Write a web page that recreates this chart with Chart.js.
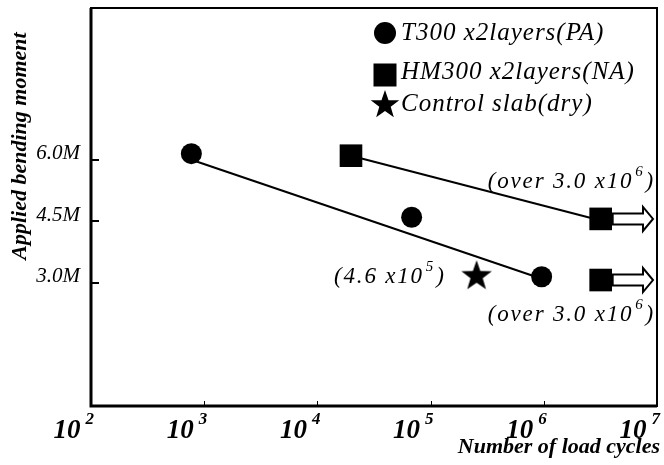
<!DOCTYPE html>
<html>
<head>
<meta charset="utf-8">
<script src="https://cdn.jsdelivr.net/npm/chart.js@4.4.0/dist/chart.umd.min.js"></script>
<style>
  html, body { margin: 0; padding: 0; background: #fff; }
  #wrap { width: 664px; height: 465px; }
</style>
</head>
<body>
<div id="wrap"><canvas id="fatigueChart" width="664" height="465"></canvas></div>
<script>
const xDecades = [100, 1000, 10000, 100000, 1000000, 10000000];
const xExponents = ['2', '3', '4', '5', '6', '7'];
const yTicks = [3.0, 4.5, 6.0];

const t300Cycles = [770, 68000, 957000];
const t300Moment = [6.15, 4.6, 3.15];
const t300FitCycles = [770, 957000];
const t300FitMoment = [6.0, 3.1];

const hm300Cycles = [19800, 3180000, 3180000];
const hm300Moment = [6.1, 4.56, 3.07];
const hm300FitCycles = [19800, 3180000];
const hm300FitMoment = [6.1, 4.52];

const controlCycles = [255000];
const controlMoment = [3.2];

const legendLabels = ['T300 x2layers(PA)', 'HM300 x2layers(NA)', 'Control slab(dry)'];
const runoutNote = ['(over 3.0 x10', '6', ')'];
const controlNote = ['(4.6 x10', '5', ')'];

const SERIF = "'Liberation Serif', 'Times New Roman', serif";

function toPoints(xs, ys) {
    return xs.map((x, i) => ({ x: x, y: ys[i] }));
}

function starPath(ctx, cx, cy, outer, inner) {
    ctx.beginPath();
    for (let i = 0; i < 10; i++) {
        const r = i % 2 === 0 ? outer : inner;
        const a = -Math.PI / 2 + i * Math.PI / 5;
        const px = cx + r * Math.cos(a);
        const py = cy + r * Math.sin(a);
        if (i === 0) ctx.moveTo(px, py); else ctx.lineTo(px, py);
    }
    ctx.closePath();
}

function makeStar(size) {
    const c = document.createElement('canvas');
    c.width = size;
    c.height = size;
    const g = c.getContext('2d');
    g.fillStyle = '#000';
    starPath(g, size / 2, size / 2 + 1.5, size / 2, size / 5);
    g.fill();
    return c;
}

// text with one superscript part: [base, sup, tail]
function drawSupText(ctx, parts, x, y, align, size, weight, spacing, gap) {
    const supSize = Math.round(size * 0.64);
    const baseFont = `italic ${weight} ${size}px ${SERIF}`;
    const supFont = `italic ${weight} ${supSize}px ${SERIF}`;
    ctx.letterSpacing = spacing + 'px';
    ctx.font = baseFont;
    const w0 = ctx.measureText(parts[0]).width;
    const w2 = ctx.measureText(parts[2]).width;
    ctx.font = supFont;
    const w1 = ctx.measureText(parts[1]).width + gap + 1;
    const total = w0 + w1 + w2;
    let left = align === 'right' ? x - total : (align === 'center' ? x - total / 2 : x);
    ctx.textAlign = 'left';
    ctx.textBaseline = 'middle';
    ctx.font = baseFont;
    ctx.fillText(parts[0], left, y);
    ctx.font = supFont;
    ctx.fillText(parts[1], left + w0 + gap, y - size * 0.42);
    ctx.font = baseFont;
    ctx.fillText(parts[2], left + w0 + w1, y);
    ctx.letterSpacing = '0px';
}

function drawArrow(ctx, x0, x1, y) {
    const shaft = 5.5, head = 12, headLen = 10;
    const xh = x1 - headLen;
    ctx.beginPath();
    ctx.moveTo(x0, y - shaft);
    ctx.lineTo(xh, y - shaft);
    ctx.lineTo(xh, y - head);
    ctx.lineTo(x1, y);
    ctx.lineTo(xh, y + head);
    ctx.lineTo(xh, y + shaft);
    ctx.lineTo(x0, y + shaft);
    ctx.closePath();
    ctx.fillStyle = '#fff';
    ctx.fill();
    ctx.lineWidth = 2;
    ctx.strokeStyle = '#000';
    ctx.stroke();
}

const starImg = makeStar(32);

const paperPlugin = {
    id: 'paper',
    afterDatasetsDraw(chart) {
        const ctx = chart.ctx;
        const xs = chart.scales.x, ys = chart.scales.y;
        ctx.save();
        // run-out arrows after the HM300 specimens that did not fail
        [1, 2].forEach(i => {
            const px = xs.getPixelForValue(hm300Cycles[i]);
            const py = ys.getPixelForValue(hm300Moment[i]);
            drawArrow(ctx, px + 12, chart.chartArea.right - 4, py);
        });
        ctx.restore();
    },
    afterDraw(chart) {
        const ctx = chart.ctx;
        const area = chart.chartArea;
        const xs = chart.scales.x, ys = chart.scales.y;
        ctx.save();
        ctx.fillStyle = '#000';
        ctx.strokeStyle = '#000';

        // frame
        ctx.lineWidth = 2;
        ctx.strokeRect(area.left, area.top, area.right - area.left, area.bottom - area.top);
        ctx.lineWidth = 3;
        ctx.beginPath();
        ctx.moveTo(area.left, area.top);
        ctx.lineTo(area.left, area.bottom);
        ctx.lineTo(area.right, area.bottom);
        ctx.stroke();

        // inward tick marks
        ctx.lineWidth = 2;
        yTicks.forEach(v => {
            const py = Math.round(ys.getPixelForValue(v));
            ctx.beginPath();
            ctx.moveTo(area.left, py);
            ctx.lineTo(area.left + 8, py);
            ctx.stroke();
        });
        ctx.lineWidth = 1;
        xDecades.slice(1, -1).forEach(v => {
            const px = Math.round(xs.getPixelForValue(v)) + 0.5;
            ctx.beginPath();
            ctx.moveTo(px, area.bottom);
            ctx.lineTo(px, area.bottom - 5);
            ctx.stroke();
        });

        // x tick labels 10^n
        xDecades.forEach((v, i) => {
            const px = xs.getPixelForValue(v);
            drawSupText(ctx, ['10', xExponents[i], ''], px + 4, area.bottom + 25, 'right', 27, 'bold', 0, 5);
        });

        // axis titles
        ctx.font = `italic bold 22px ${SERIF}`;
        ctx.textAlign = 'right';
        ctx.textBaseline = 'middle';
        ctx.fillText('Number of load cycles', area.right + 3, area.bottom + 41);

        ctx.save();
        ctx.translate(20, 146);
        ctx.rotate(-Math.PI / 2);
        ctx.textAlign = 'center';
        ctx.fillText('Applied bending moment', 0, 0);
        ctx.restore();

        // legend
        const lx = 385;
        const rows = [33, 72, 104];
        ctx.beginPath();
        ctx.arc(lx, rows[0], 11, 0, Math.PI * 2);
        ctx.fill();
        ctx.fillRect(lx - 11.5, rows[1] + 3 - 11.5, 23, 23);
        starPath(ctx, lx, rows[2] + 1, 15, 6);
        ctx.fill();
        ctx.font = `italic 25px ${SERIF}`;
        ctx.letterSpacing = '1px';
        ctx.textAlign = 'left';
        ctx.textBaseline = 'middle';
        legendLabels.forEach((t, i) => ctx.fillText(t, lx + 16, rows[i]));
        ctx.letterSpacing = '0px';

        // annotations
        const sx = xs.getPixelForValue(controlCycles[0]);
        const sy = ys.getPixelForValue(controlMoment[0]);
        drawSupText(ctx, controlNote, sx - 31, sy + 2, 'right', 23, 'normal', 1.8, 2);
        const upY = ys.getPixelForValue(hm300Moment[1]);
        drawSupText(ctx, runoutNote, area.right - 2, upY - 37, 'right', 23, 'normal', 1.8, 2);
        const loY = ys.getPixelForValue(hm300Moment[2]);
        drawSupText(ctx, runoutNote, area.right - 2, loY + 35, 'right', 23, 'normal', 1.8, 2);

        ctx.restore();
    }
};

const ctx = document.getElementById('fatigueChart').getContext('2d');
const fatigueChart = new Chart(ctx, {
    type: 'scatter',
    data: {
        datasets: [
            {
                label: legendLabels[0],
                data: toPoints(t300Cycles, t300Moment),
                pointStyle: 'circle',
                pointRadius: 10.5,
                pointBackgroundColor: '#000',
                pointBorderWidth: 0
            },
            {
                label: legendLabels[1],
                data: toPoints(hm300Cycles, hm300Moment),
                pointStyle: 'rect',
                pointRadius: 16,
                pointBackgroundColor: '#000',
                pointBorderWidth: 0
            },
            {
                label: legendLabels[2],
                data: toPoints(controlCycles, controlMoment),
                pointStyle: starImg,
                pointRadius: 16
            },
            {
                label: 'T300 fit',
                data: toPoints(t300FitCycles, t300FitMoment),
                showLine: true,
                borderColor: '#000',
                borderWidth: 2,
                pointRadius: 0
            },
            {
                label: 'HM300 fit',
                data: toPoints(hm300FitCycles, hm300FitMoment),
                showLine: true,
                borderColor: '#000',
                borderWidth: 2,
                pointRadius: 0
            }
        ]
    },
    options: {
        responsive: false,
        animation: false,
        layout: { autoPadding: false, padding: { top: 8, right: 7, left: 0, bottom: 0 } },
        plugins: {
            legend: { display: false },
            tooltip: { enabled: false }
        },
        scales: {
            x: {
                type: 'logarithmic',
                min: 100,
                max: 10000000,
                grid: { display: false, drawTicks: false },
                border: { display: false },
                ticks: { display: false },
                afterBuildTicks: s => { s.ticks = xDecades.map(v => ({ value: v })); },
                afterFit: s => { s.height = 59; s.paddingLeft = 0; s.paddingRight = 0; }
            },
            y: {
                type: 'linear',
                min: 0,
                max: 9.7,
                grid: { display: false, drawTicks: false },
                border: { display: false },
                afterBuildTicks: s => { s.ticks = yTicks.map(v => ({ value: v })); },
                afterFit: s => { s.width = 91; s.paddingTop = 0; s.paddingBottom = 0; },
                ticks: {
                    color: '#000',
                    padding: 11,
                    labelOffset: -6,
                    font: { family: SERIF, size: 21, style: 'italic' },
                    callback: v => Number(v).toFixed(1) + 'M'
                }
            }
        }
    },
    plugins: [paperPlugin]
});
</script>
</body>
</html>
